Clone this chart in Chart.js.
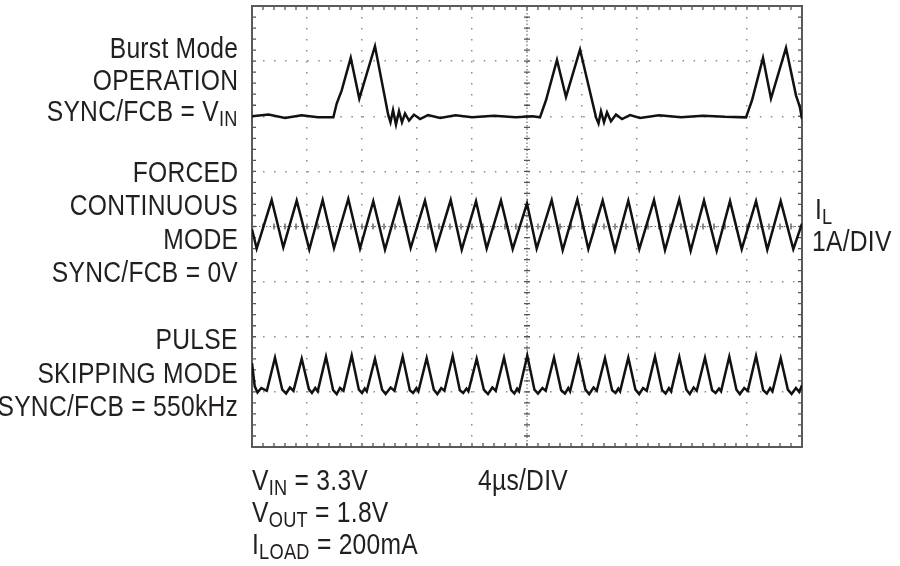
<!DOCTYPE html>
<html>
<head>
<meta charset="utf-8">
<title>Inductor current in three operating modes</title>
<script src="https://cdn.jsdelivr.net/npm/chart.js@4.4.1/dist/chart.umd.min.js"></script>
<style>
    html, body { margin: 0; padding: 0; background: #fff; }
    #wrap { position: relative; width: 900px; height: 566px; overflow: hidden; }
    #scope { position: absolute; left: 0; top: 0; }
    .lbl {
        position: absolute;
        font-family: "Liberation Sans", Arial, sans-serif;
        font-size: 29px;
        line-height: 29px;
        color: #231f20;
        white-space: nowrap;
        letter-spacing: 0.3px;
        transform: scaleX(0.85);
        transform-origin: left top;
    }
    .lbl.r { right: 662px; text-align: right; transform-origin: right top; }
    .lbl sub { font-size: 0.74em; vertical-align: -0.22em; line-height: 0; }
</style>
</head>
<body>
<div id="wrap">
    <canvas id="scope" width="900" height="566"></canvas>

    <div class="lbl r" style="top:34px">Burst Mode</div>
    <div class="lbl r" style="top:66px">OPERATION</div>
    <div class="lbl r" style="top:97px">SYNC/FCB = V<sub>IN</sub></div>

    <div class="lbl r" style="top:158px">FORCED</div>
    <div class="lbl r" style="top:191px">CONTINUOUS</div>
    <div class="lbl r" style="top:225px">MODE</div>
    <div class="lbl r" style="top:258px">SYNC/FCB = 0V</div>

    <div class="lbl r" style="top:325px">PULSE</div>
    <div class="lbl r" style="top:359px">SKIPPING MODE</div>
    <div class="lbl r" style="top:392px">SYNC/FCB = 550kHz</div>

    <div class="lbl" style="left:815px; top:195px">I<sub>L</sub></div>
    <div class="lbl" style="left:812px; top:227px">1A/DIV</div>

    <div class="lbl" style="left:252px; top:466px">V<sub>IN</sub> = 3.3V</div>
    <div class="lbl" style="left:478px; top:466px">4µs/DIV</div>
    <div class="lbl" style="left:252px; top:498px">V<sub>OUT</sub> = 1.8V</div>
    <div class="lbl" style="left:252px; top:530px">I<sub>LOAD</sub> = 200mA</div>
</div>

<script>
// screen in divisions: 10 across (4µs each), 8 down (1A each)
const xMin = 0, xMax = 10, yMin = 0, yMax = 8;
const xCentre = 5, yCentre = 4;
const minorPerDiv = 5;

// Burst Mode operation, top trace
const burstX = [0, 0.3, 0.6, 0.9, 1.2, 1.479, 1.54, 1.631, 1.795, 1.951, 2.236, 2.478,
    2.518, 2.564, 2.618, 2.673, 2.727, 2.782, 2.855, 2.945, 3.055, 3.2, 3.42,
    3.7, 4.0, 4.4, 4.8, 5.1, 5.236, 5.345, 5.545, 5.709, 5.964, 6.255,
    6.3, 6.345, 6.4, 6.455, 6.527, 6.618, 6.727, 6.873, 7.055,
    7.4, 7.8, 8.2, 8.6, 8.982, 9.091, 9.291, 9.436, 9.709, 9.891, 9.96, 10];
const burstY = [6.0, 6.03, 5.97, 6.02, 5.98, 5.98, 6.23, 6.47, 7.06, 6.32, 7.27, 6.02,
    5.89, 6.11, 5.85, 6.09, 5.89, 6.05, 5.92, 6.03, 5.95, 6.02, 5.97,
    6.02, 5.98, 6.01, 5.98, 6.0, 5.98, 6.29, 7.02, 6.35, 7.21, 5.98,
    5.87, 6.09, 5.89, 6.07, 5.91, 6.03, 5.95, 6.02, 5.97,
    6.02, 5.98, 6.01, 5.99, 5.98, 6.29, 7.06, 6.32, 7.24, 6.38, 6.17, 5.95];

// forced continuous mode, middle trace (troughs and peaks)
const fccmX = [0, 0.085, 0.358, 0.569, 0.813, 1.042, 1.285, 1.491, 1.751, 1.964, 2.205,
    2.418, 2.678, 2.885, 3.145, 3.345, 3.613, 3.813, 4.073, 4.267, 4.527,
    4.74, 5.0, 5.176, 5.449, 5.649, 5.915, 6.115, 6.376, 6.6, 6.842,
    7.042, 7.309, 7.509, 7.769, 7.976, 8.218, 8.449, 8.691, 8.904, 9.164,
    9.369, 9.613, 9.842, 10];
const fccmY = [3.95, 3.6, 4.48, 3.62, 4.47, 3.58, 4.48, 3.61, 4.5, 3.6, 4.46,
    3.58, 4.49, 3.61, 4.47, 3.6, 4.48, 3.58, 4.46, 3.6, 4.47,
    3.59, 4.42, 3.6, 4.48, 3.57, 4.49, 3.59, 4.47, 3.57, 4.47,
    3.59, 4.48, 3.57, 4.49, 3.56, 4.47, 3.56, 4.46, 3.59, 4.46,
    3.58, 4.46, 3.59, 4.05];

// pulse skipping mode, bottom trace
const pulseX = [0, 0.05, 0.1, 0.17, 0.27, 0.418,
    0.55, 0.62, 0.69, 0.754, 0.904,
    1.034, 1.09, 1.15, 1.195, 1.345,
    1.475, 1.54, 1.6, 1.663, 1.813,
    1.943, 2.0, 2.05, 2.086, 2.236,
    2.366, 2.43, 2.52, 2.59, 2.74,
    2.87, 2.93, 2.99, 3.026, 3.176,
    3.306, 3.37, 3.44, 3.499, 3.649,
    3.779, 3.84, 3.9, 3.935, 4.085,
    4.215, 4.29, 4.37, 4.432, 4.582,
    4.712, 4.77, 4.82, 4.855, 5.005,
    5.135, 5.2, 5.28, 5.341, 5.491,
    5.621, 5.69, 5.75, 5.783, 5.933,
    6.063, 6.13, 6.21, 6.268, 6.418,
    6.548, 6.61, 6.66, 6.692, 6.842,
    6.972, 7.04, 7.11, 7.177, 7.327,
    7.457, 7.52, 7.58, 7.619, 7.769,
    7.899, 7.96, 8.03, 8.086, 8.236,
    8.366, 8.43, 8.49, 8.528, 8.678,
    8.808, 8.87, 8.95, 9.014, 9.164,
    9.294, 9.36, 9.42, 9.463, 9.613,
    9.743, 9.81, 9.89, 9.95, 10];
const pulseY = [1.52, 1.1, 0.99, 1.07, 1.02, 1.62,
    1.04, 0.97, 1.08, 1.02, 1.6,
    1.05, 0.98, 1.07, 1.01, 1.64,
    1.03, 0.96, 1.07, 1.02, 1.66,
    1.04, 0.98, 1.06, 1.01, 1.6,
    1.04, 0.96, 1.08, 1.02, 1.64,
    1.03, 0.98, 1.07, 1.01, 1.61,
    1.04, 0.96, 1.07, 1.02, 1.65,
    1.03, 0.98, 1.06, 1.01, 1.6,
    1.04, 0.96, 1.08, 1.02, 1.62,
    1.03, 0.97, 1.06, 1.01, 1.66,
    1.04, 0.97, 1.07, 1.02, 1.62,
    1.03, 0.97, 1.07, 1.01, 1.63,
    1.04, 0.96, 1.08, 1.02, 1.61,
    1.03, 0.98, 1.06, 1.01, 1.62,
    1.04, 0.96, 1.07, 1.02, 1.64,
    1.03, 0.97, 1.07, 1.01, 1.63,
    1.04, 0.96, 1.08, 1.02, 1.62,
    1.03, 0.98, 1.06, 1.01, 1.64,
    1.04, 0.96, 1.07, 1.02, 1.65,
    1.03, 0.97, 1.07, 1.01, 1.61,
    1.04, 0.96, 1.07, 1.0, 1.12];

function toPoints(xs, ys) {
    return xs.map((x, i) => ({ x: x, y: ys[i] }));
}

function traceDataset(label, xs, ys) {
    return {
        label: label,
        data: toPoints(xs, ys),
        borderColor: "#111111",
        borderWidth: 2.5,
        pointRadius: 0,
        tension: 0,
        fill: false,
    };
}

function gridColor(ctx) {
    const v = ctx.tick ? ctx.tick.value : null;
    // edges are drawn solid by the frame plugin
    if (v === xMin || v === xMax || v === yMin || v === yMax) return "rgba(0,0,0,0)";
    return "#8c8c8c";
}

// box, minor ticks and the two centre lines of the scope screen
const scopeFrame = {
    id: "scopeFrame",
    beforeDatasetsDraw(chart) {
        const { ctx, chartArea: a, scales } = chart;
        const sx = scales.x, sy = scales.y;
        const cx = sx.getPixelForValue(xCentre);
        const cy = sy.getPixelForValue(yCentre);

        ctx.save();
        ctx.strokeStyle = "#707070";
        ctx.lineWidth = 1.2;
        ctx.setLineDash([1.5, 2]);
        ctx.beginPath();
        ctx.moveTo(cx, a.top);
        ctx.lineTo(cx, a.bottom);
        ctx.moveTo(a.left, cy);
        ctx.lineTo(a.right, cy);
        ctx.stroke();
        ctx.setLineDash([]);

        ctx.strokeStyle = "#555";
        ctx.lineWidth = 1.3;
        ctx.beginPath();
        for (let i = 0; i <= (xMax - xMin) * minorPerDiv; i++) {
            const px = sx.getPixelForValue(xMin + i / minorPerDiv);
            ctx.moveTo(px, a.top);
            ctx.lineTo(px, a.top + 4);
            ctx.moveTo(px, a.bottom);
            ctx.lineTo(px, a.bottom - 4);
            ctx.moveTo(px, cy - 3);
            ctx.lineTo(px, cy + 3);
        }
        for (let i = 0; i <= (yMax - yMin) * minorPerDiv; i++) {
            const py = sy.getPixelForValue(yMin + i / minorPerDiv);
            ctx.moveTo(a.left, py);
            ctx.lineTo(a.left + 4, py);
            ctx.moveTo(a.right, py);
            ctx.lineTo(a.right - 4, py);
            ctx.moveTo(cx - 3, py);
            ctx.lineTo(cx + 3, py);
        }
        ctx.stroke();

        ctx.strokeStyle = "#5a5a5a";
        ctx.lineWidth = 2;
        ctx.strokeRect(a.left, a.top, a.right - a.left, a.bottom - a.top);
        ctx.restore();
    },
};

new Chart(document.getElementById("scope"), {
    type: "line",
    data: {
        datasets: [
            traceDataset("Burst Mode operation", burstX, burstY),
            traceDataset("Forced continuous mode", fccmX, fccmY),
            traceDataset("Pulse skipping mode", pulseX, pulseY),
        ],
    },
    options: {
        responsive: false,
        animation: false,
        layout: {
            padding: { left: 252, right: 98, top: 6, bottom: 119 },
        },
        plugins: {
            legend: { display: false },
            tooltip: { enabled: false },
        },
        scales: {
            x: {
                type: "linear",
                min: xMin,
                max: xMax,
                ticks: { display: false, stepSize: 1 },
                grid: { color: gridColor, lineWidth: 1.5, drawTicks: false },
                border: { display: false, dash: [1.5, 9.5] },
            },
            y: {
                type: "linear",
                min: yMin,
                max: yMax,
                ticks: { display: false, stepSize: 1 },
                grid: { color: gridColor, lineWidth: 1.5, drawTicks: false },
                border: { display: false, dash: [1.5, 9.54] },
            },
        },
    },
    plugins: [scopeFrame],
});
</script>
</body>
</html>
